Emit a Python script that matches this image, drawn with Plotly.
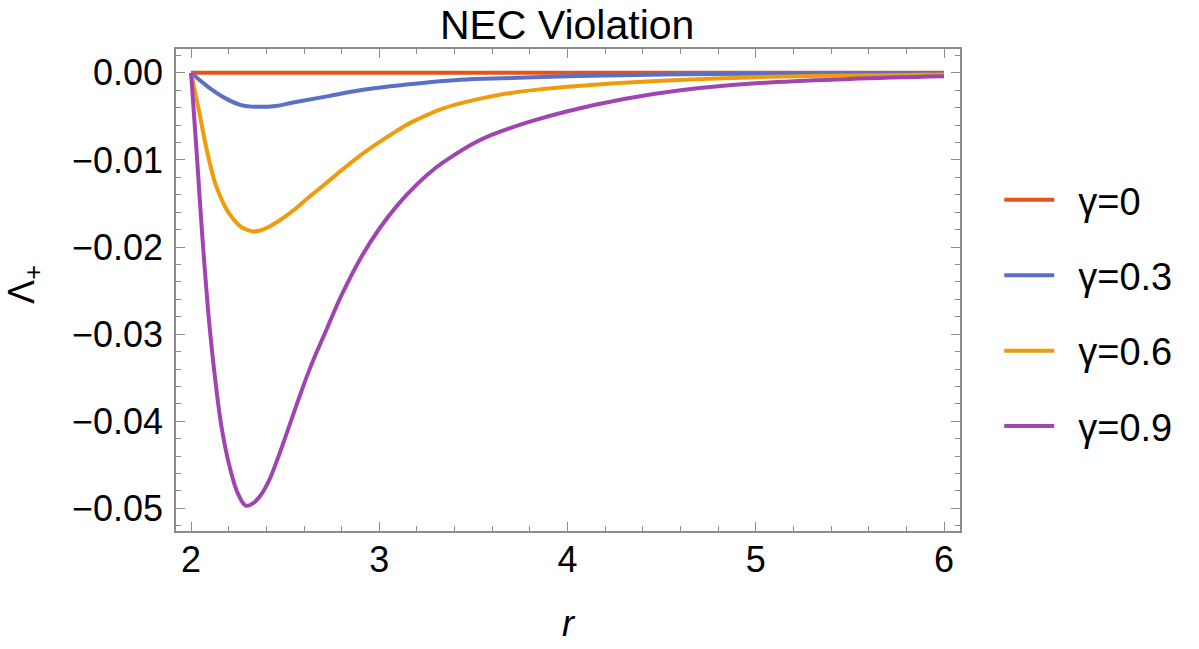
import plotly.graph_objects as go

# ---- data ----
labels = ["γ=0", "γ=0.3", "γ=0.6", "γ=0.9"]
colors = ["#E0561A", "#5B6FC9", "#EE9B0C", "#A044B2"]

r_00 = [2.0, 6.0]
v_00 = [0.0, 0.0]

r_03 = [2.0, 2.09, 2.181, 2.266, 2.356, 2.45, 2.542, 2.722, 2.898, 3.073, 3.254, 3.429, 3.7, 4.0, 4.5, 5.0, 5.5, 6.0]
v_03 = [0.0, -0.0016, -0.0029, -0.0037, -0.0039, -0.0038, -0.0034, -0.0027, -0.0020, -0.0015, -0.0011, -0.0008,
        -0.0006, -0.0004, -0.0002, -0.0001, -0.00006, -0.00004]

r_06 = [2.0, 2.03, 2.048, 2.083, 2.127, 2.16, 2.189, 2.225, 2.26, 2.295, 2.33, 2.367, 2.42, 2.48, 2.543, 2.63,
        2.721, 2.81, 2.898, 2.99, 3.075, 3.16, 3.252, 3.34, 3.43, 3.55, 3.7, 3.85, 4.0, 4.25, 4.5, 5.0, 5.5, 6.0]
v_06 = [0.0, -0.0031, -0.0050, -0.0088, -0.0126, -0.0144, -0.0157, -0.0168, -0.0176, -0.0180, -0.0182, -0.0181,
        -0.0176, -0.0168, -0.0158, -0.0142, -0.0126, -0.0110, -0.0095, -0.0081, -0.0069, -0.0058, -0.00485,
        -0.00408, -0.0035, -0.0029, -0.0023, -0.0019, -0.0016, -0.0012, -0.0009, -0.0005, -0.0003, -0.0002]

r_09 = [2.0, 2.03, 2.057, 2.08, 2.101, 2.13, 2.163, 2.207, 2.251, 2.292, 2.33, 2.37, 2.41, 2.455, 2.508, 2.561,
        2.632, 2.721, 2.8, 2.9, 3.0, 3.1, 3.2, 3.3, 3.4, 3.5, 3.6, 3.8, 4.0, 4.3, 4.6, 5.0, 5.5, 6.0]
v_09 = [0.0, -0.0092, -0.0179, -0.0245, -0.0297, -0.0355, -0.0408, -0.0454, -0.0484, -0.0497, -0.0494, -0.0485,
        -0.0470, -0.0446, -0.0414, -0.0381, -0.0339, -0.0294, -0.0255, -0.0213, -0.0179, -0.0151, -0.0128,
        -0.0109, -0.0094, -0.0081, -0.0071, -0.0056, -0.0044, -0.0030, -0.0020, -0.0012, -0.0007, -0.0004]

x_ticks = [2, 3, 4, 5, 6]
x_ticktext = ["2", "3", "4", "5", "6"]
y_ticks = [0.0, -0.01, -0.02, -0.03, -0.04, -0.05]
y_ticktext = ["0.00", "−0.01", "−0.02", "−0.03", "−0.04", "−0.05"]

title_text = "NEC Violation"
x_title = "<i>r</i>"
y_title = "Λ<sub>+</sub>"

FONT = "Liberation Sans, Arial, sans-serif"

fig = go.Figure()
series = [(r_00, v_00), (r_03, v_03), (r_06, v_06), (r_09, v_09)]
for (rx, vy), name, col in zip(series, labels, colors):
    fig.add_trace(go.Scatter(
        x=rx, y=vy, mode="lines", name="\u2002" + name, legendgroup=name,
        line=dict(color=col, width=4, shape="spline", smoothing=1.1),
    ))

axis_common = dict(
    showgrid=False, zeroline=False, showline=True, linecolor="#8c8c8c", linewidth=1.5,
    mirror="allticks", ticks="inside", tickcolor="#8c8c8c", tickwidth=1.2,
    tickfont=dict(family=FONT, size=36, color="black"),
)

fig.update_xaxes(
    range=[1.92, 6.085], tickvals=x_ticks, ticktext=x_ticktext, ticklen=9,
    minor=dict(ticks="inside", dtick=0.2, tick0=2, ticklen=5, tickcolor="#8c8c8c", tickwidth=1, showgrid=False),
    title=dict(text=x_title, font=dict(family=FONT, size=36, color="black"), standoff=32),
    ticklabelstandoff=-4,
    **axis_common,
)
fig.update_yaxes(
    range=[-0.0526, 0.00274], tickvals=y_ticks, ticktext=y_ticktext, ticklen=9,
    minor=dict(ticks="inside", dtick=0.002, tick0=0, ticklen=5, tickcolor="#8c8c8c", tickwidth=1, showgrid=False),
    ticklabelstandoff=4,
    **axis_common,
)

fig.add_annotation(
    text=y_title, xref="paper", yref="paper", x=-0.193, y=0.512, xanchor="center", yanchor="middle",
    textangle=-90, showarrow=False, font=dict(family=FONT, size=36, color="black"),
)

fig.update_layout(
    width=1199, height=649,
    margin=dict(l=176, r=239, t=49, b=116),
    paper_bgcolor="white", plot_bgcolor="white",
    title=dict(text=title_text, x=0.473, xanchor="center", y=0.962, yanchor="middle",
               font=dict(family=FONT, size=41, color="black")),
    legend=dict(x=1.05, xanchor="left", y=0.452, yanchor="middle",
                font=dict(family=FONT, size=38, color="black"),
                tracegroupgap=23, bgcolor="rgba(0,0,0,0)", itemwidth=50),
    showlegend=True,
)

fig.write_html("out.html", config={"displayModeBar": False},
               post_script="document.body.style.margin='0';")
